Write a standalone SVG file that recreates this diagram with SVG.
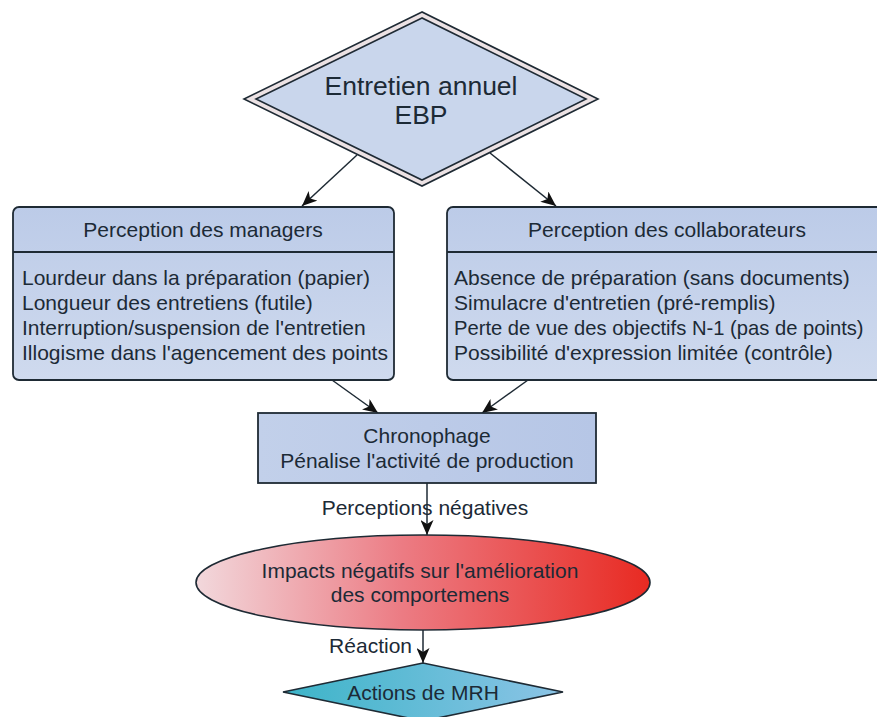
<svg xmlns="http://www.w3.org/2000/svg" width="877" height="717" viewBox="0 0 877 717">
  <defs>
    <style>
      text { font-family: "Liberation Sans", Arial, sans-serif; fill: #1c2a36; }
      .t21 { font-size: 21px; }
      .title { font-size: 26.5px; }
      .mid { text-anchor: middle; }
      .edge { stroke: #1e2a34; stroke-width: 1.5; fill: none; }
      .box { stroke: #1e2a34; stroke-width: 1.8; }
    </style>
    <linearGradient id="blueBox" x1="0" y1="0" x2="0" y2="1">
      <stop offset="0" stop-color="#bccbe8"/>
      <stop offset="1" stop-color="#cfdaee"/>
    </linearGradient>
    <linearGradient id="chrono" x1="0" y1="0" x2="1" y2="0">
      <stop offset="0" stop-color="#c2d0ea"/>
      <stop offset="1" stop-color="#b6c6e6"/>
    </linearGradient>
    <linearGradient id="redGrad" x1="0" y1="0" x2="1" y2="0">
      <stop offset="0" stop-color="#f2d8dc"/>
      <stop offset="0.45" stop-color="#ec7c84"/>
      <stop offset="1" stop-color="#e82a22"/>
    </linearGradient>
    <linearGradient id="tealGrad" x1="0" y1="0" x2="1" y2="0">
      <stop offset="0" stop-color="#3cb4c8"/>
      <stop offset="1" stop-color="#8cc4e6"/>
    </linearGradient>
    <marker id="arr" viewBox="0 0 15 13" refX="15" refY="6.5" markerWidth="15" markerHeight="13" markerUnits="userSpaceOnUse" orient="auto">
      <path d="M0,0 L15,6.5 L0,13 L4,6.5 z" fill="#111"/>
    </marker>
  </defs>

  <rect width="877" height="717" fill="#ffffff"/>

  <g id="connectors">
    <line class="edge" x1="357" y1="155" x2="302" y2="206" marker-end="url(#arr)"/>
    <line class="edge" x1="490" y1="153" x2="556" y2="206" marker-end="url(#arr)"/>
    <line class="edge" x1="332" y1="380" x2="378" y2="413" marker-end="url(#arr)"/>
    <line class="edge" x1="528" y1="380" x2="482" y2="413" marker-end="url(#arr)"/>
    <line class="edge" x1="427" y1="483" x2="427" y2="535" marker-end="url(#arr)"/>
    <line class="edge" x1="423" y1="630" x2="423" y2="663" marker-end="url(#arr)"/>
    <text class="t21 mid" x="425" y="515">Perceptions négatives</text>
    <text class="t21" x="412" y="653" text-anchor="end">Réaction</text>
  </g>

  <g id="node-entretien">
    <polygon points="422,12 244,99 422,186 598,99" fill="#ece2e4" stroke="#1e2a34" stroke-width="1.6"/>
    <polygon points="422,18 256,99 422,180 586,99" fill="#c9d6ec" stroke="#1e2a34" stroke-width="1.6"/>
    <text class="title mid" x="421" y="95">Entretien annuel</text>
    <text class="title mid" x="421" y="124">EBP</text>
  </g>

  <g id="node-managers">
    <rect class="box" x="13" y="207" width="381" height="173" rx="6" fill="url(#blueBox)"/>
    <line x1="13" y1="252" x2="394" y2="252" stroke="#1e2a34" stroke-width="1.8"/>
    <text class="t21 mid" x="203" y="237">Perception des managers</text>
    <text class="t21" x="22" y="285">Lourdeur dans la préparation (papier)</text>
    <text class="t21" x="22" y="310">Longueur des entretiens (futile)</text>
    <text class="t21" x="22" y="335">Interruption/suspension de l'entretien</text>
    <text class="t21" x="22" y="360">Illogisme dans l'agencement des points</text>
  </g>

  <g id="node-collaborateurs">
    <rect class="box" x="447" y="207" width="442" height="173" rx="6" fill="url(#blueBox)"/>
    <line x1="447" y1="252" x2="889" y2="252" stroke="#1e2a34" stroke-width="1.8"/>
    <text class="t21 mid" x="667" y="237">Perception des collaborateurs</text>
    <text class="t21" x="454" y="285">Absence de préparation (sans documents)</text>
    <text class="t21" x="454" y="310">Simulacre d'entretien (pré-remplis)</text>
    <text x="454" y="335" font-size="20.2">Perte de vue des objectifs N-1 (pas de points)</text>
    <text class="t21" x="454" y="360">Possibilité d'expression limitée (contrôle)</text>
  </g>

  <g id="node-chronophage">
    <rect class="box" x="258" y="413" width="338" height="70" fill="url(#chrono)"/>
    <text class="t21 mid" x="427" y="443">Chronophage</text>
    <text class="t21 mid" x="427" y="468">Pénalise l'activité de production</text>
  </g>

  <g id="node-impacts">
    <ellipse cx="423" cy="582.5" rx="227" ry="47.5" fill="url(#redGrad)" stroke="#1e2a34" stroke-width="1.6"/>
    <text class="t21 mid" x="420" y="578">Impacts négatifs sur l'amélioration</text>
    <text class="t21 mid" x="420" y="602">des comportemens</text>
  </g>

  <g id="node-actions">
    <polygon points="423,663 283,692 423,721 563,692" fill="url(#tealGrad)" stroke="#1e2a34" stroke-width="1.6"/>
    <text class="t21 mid" x="423" y="700">Actions de MRH</text>
  </g>
</svg>
